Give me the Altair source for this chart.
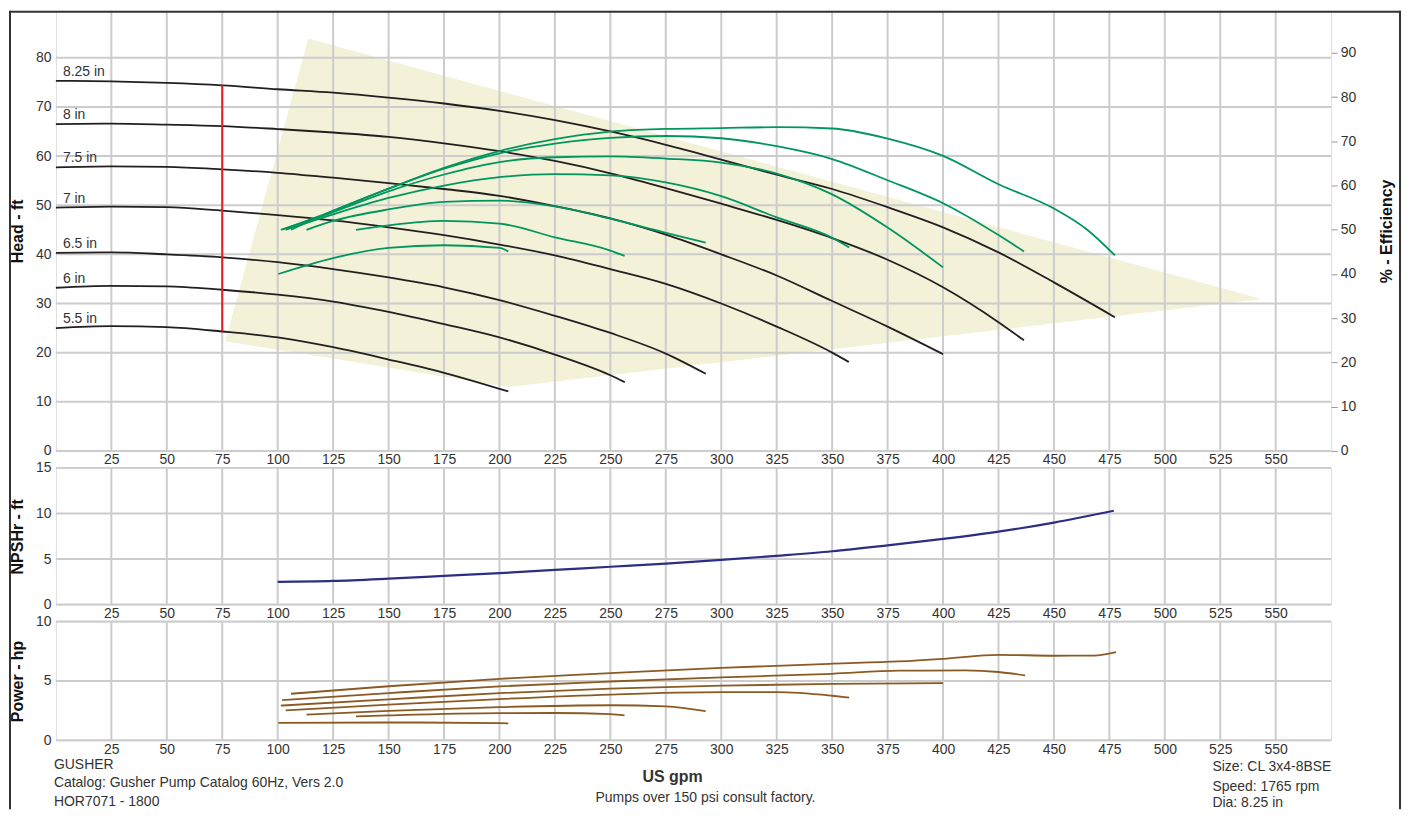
import altair as alt
import pandas as pd

# ---------------- values ----------------
x_ticks = [25, 50, 75, 100, 125, 150, 175, 200, 225, 250, 275, 300, 325, 350,
           375, 400, 425, 450, 475, 500, 525, 550]
head_ticks = [0, 10, 20, 30, 40, 50, 60, 70, 80]
eff_ticks = [0, 10, 20, 30, 40, 50, 60, 70, 80, 90]
npsh_ticks = [0, 5, 10, 15]
power_ticks = [0, 5, 10]

diameters = ["8.25 in", "8 in", "7.5 in", "7 in", "6.5 in", "6 in", "5.5 in"]

# head curves (gpm, ft)
head_825 = [(0, 75.3), (25, 75.2), (50, 74.9), (75, 74.4), (100, 73.6), (125, 72.9), (150, 71.9),
            (175, 70.7), (200, 69.2), (225, 67.3), (250, 65.0), (275, 62.3), (300, 59.3), (325, 56.2),
            (350, 53.3), (375, 49.6), (400, 45.5), (425, 40.4), (450, 34.3), (477.5, 27.2)]
head_8 = [(0, 66.5), (25, 66.6), (50, 66.4), (75, 66.1), (100, 65.5), (125, 64.8), (150, 63.9),
          (175, 62.6), (200, 61.0), (225, 59.0), (250, 56.5), (275, 53.5), (300, 50.3), (325, 47.0),
          (350, 43.3), (375, 38.9), (400, 33.3), (425, 26.2), (436.5, 22.5)]
head_75 = [(0, 57.7), (25, 57.9), (50, 57.8), (75, 57.3), (100, 56.6), (125, 55.6), (150, 54.5),
           (175, 53.3), (200, 51.9), (225, 49.8), (250, 47.3), (275, 44.0), (300, 40.0), (325, 35.7),
           (350, 30.5), (375, 25.3), (400, 19.7)]
head_7 = [(0, 49.5), (25, 49.7), (50, 49.6), (75, 48.9), (100, 48.0), (125, 46.9), (150, 45.5),
          (175, 43.9), (200, 42.0), (225, 39.8), (250, 37.0), (275, 34.0), (300, 30.0), (325, 25.3),
          (350, 20.0), (357.5, 18.1)]
head_65 = [(0, 40.3), (25, 40.4), (50, 40.0), (75, 39.4), (100, 38.4), (125, 37.0), (150, 35.3),
           (175, 33.3), (200, 30.7), (225, 27.5), (250, 24.0), (275, 19.8), (293, 15.7)]
head_6 = [(0, 33.2), (25, 33.6), (50, 33.5), (75, 32.8), (100, 31.8), (125, 30.4), (150, 28.3),
          (175, 25.8), (200, 23.1), (225, 19.6), (250, 15.4), (256.5, 14.0)]
head_55 = [(0, 25.0), (25, 25.4), (50, 25.2), (75, 24.3), (100, 23.1), (125, 21.1), (150, 18.6),
           (175, 15.9), (204, 12.1)]

# efficiency curves (gpm, %)
eff_825 = [(106, 50.0), (125, 54.3), (150, 59.3), (175, 64.0), (200, 67.8), (225, 70.5), (250, 72.2),
           (275, 72.8), (300, 73.0), (325, 73.2), (350, 72.9), (375, 70.6), (400, 66.7), (425, 60.3),
           (450, 54.8), (465, 50.0), (477.5, 44.2)]
eff_8 = [(102, 50.0), (125, 54.3), (150, 59.3), (175, 63.8), (200, 67.3), (225, 69.5), (250, 70.8),
         (275, 71.2), (300, 70.7), (325, 68.9), (350, 66.0), (375, 61.2), (400, 56.0), (425, 48.8),
         (436.5, 45.1)]
eff_75 = [(101.4, 50.0), (125, 54.0), (150, 58.7), (175, 62.5), (200, 65.3), (225, 66.4), (250, 66.6),
          (275, 66.1), (300, 65.2), (325, 62.7), (350, 58.0), (375, 50.5), (400, 41.5)]
eff_7 = [(103.6, 50.0), (125, 53.5), (150, 57.2), (175, 60.0), (200, 61.9), (225, 62.6), (250, 62.3),
         (275, 60.7), (300, 57.6), (325, 52.8), (350, 48.2), (357.7, 46.0)]
eff_65 = [(113, 50.0), (125, 52.0), (150, 54.6), (175, 56.3), (200, 56.6), (225, 55.3), (250, 52.5),
          (275, 49.3), (293, 47.1)]
eff_6 = [(135.3, 50.0), (150, 51.0), (175, 52.0), (200, 51.4), (225, 48.3), (250, 45.3), (256.4, 44.1)]
eff_55 = [(100.3, 40.0), (125, 43.6), (150, 45.9), (175, 46.5), (200, 45.9), (204, 45.1)]

# NPSHr (gpm, ft)
npsh_q = [100, 125, 150, 175, 200, 225, 250, 275, 300, 325, 350, 375, 400, 425, 450, 477]
npsh_ft = [2.5, 2.6, 2.85, 3.15, 3.45, 3.8, 4.15, 4.5, 4.9, 5.35, 5.85, 6.5, 7.2, 8.0, 9.0, 10.3]

# power curves (gpm, hp)
pow_825 = [(106, 3.92), (150, 4.55), (200, 5.18), (250, 5.65), (300, 6.1), (350, 6.45), (380, 6.64),
           (400, 6.86), (425, 7.2), (450, 7.12), (468, 7.13), (478, 7.42)]
pow_8 = [(102, 3.39), (150, 3.98), (200, 4.54), (250, 4.95), (300, 5.3), (350, 5.6), (380, 5.86),
         (410, 5.88), (425, 5.75), (437, 5.46)]
pow_75 = [(101.4, 2.92), (150, 3.45), (200, 3.97), (250, 4.35), (300, 4.6), (350, 4.75), (400, 4.82)]
pow_7 = [(103.6, 2.52), (150, 3.0), (200, 3.47), (250, 3.85), (300, 4.05), (325, 4.05), (350, 3.75),
         (357.7, 3.6)]
pow_65 = [(113, 2.16), (150, 2.48), (200, 2.80), (250, 2.95), (275, 2.85), (293, 2.45)]
pow_6 = [(135.3, 2.02), (150, 2.1), (200, 2.29), (225, 2.3), (250, 2.2), (256.4, 2.1)]
pow_55 = [(100.3, 1.46), (150, 1.5), (200, 1.45), (204, 1.43)]

# preferred operating region (shaded), upper and lower edges
shade_q = [76.3, 113.8, 203.8, 543.7]
shade_top = [22.3, 83.9, 72.8, 30.9]
shade_bottom = [22.3, 19.6, 13.0, 30.9]

# minimum flow marker
min_flow_q = 75
min_flow_low = 24.3
min_flow_high = 74.4

# ---------------- frames ----------------
head_sets = [head_825, head_8, head_75, head_7, head_65, head_6, head_55]
eff_sets = [eff_825, eff_8, eff_75, eff_7, eff_65, eff_6, eff_55]
pow_sets = [pow_825, pow_8, pow_75, pow_7, pow_65, pow_6, pow_55]


def frame(sets, name):
    rows = []
    for d, pts in zip(diameters, sets):
        for q, v in pts:
            rows.append({"dia": d, "q": q, name: v})
    return pd.DataFrame(rows)


head_df = frame(head_sets, "h")
eff_df = frame(eff_sets, "e")
pow_df = frame(pow_sets, "p")
npsh_df = pd.DataFrame({"q": npsh_q, "n": npsh_ft})
label_df = pd.DataFrame({"dia": diameters, "h": [s[0][1] for s in head_sets]})
shade_df = pd.DataFrame({"q": shade_q, "top": shade_top, "bot": shade_bottom})
red_df = pd.DataFrame({"q": [min_flow_q], "lo": [min_flow_low], "hi": [min_flow_high]})
one = pd.DataFrame({"a": [0]})

# ---------------- styling ----------------
W = 1278
H_TOP, H_MID, H_BOT = 441, 137, 119
FONT = "Liberation Sans"
GRID = "#cccccc"
TXT = "#333333"

xscale = alt.Scale(domain=[0, 575], nice=False, zero=False)
head_scale = alt.Scale(domain=[0, 89.55], nice=False, zero=False)
eff_scale = alt.Scale(domain=[0, 99.5], nice=False, zero=False)
npsh_scale = alt.Scale(domain=[0, 15], nice=False, zero=False)
pow_scale = alt.Scale(domain=[0, 10], nice=False, zero=False)

X_AXIS = alt.Axis(values=x_ticks, ticks=False, domain=False, grid=False, labelFontSize=14,
                  labelPadding=2, labelColor=TXT, title=None, labelFont=FONT)


def y_axis(vals, title):
    return alt.Axis(values=vals, ticks=False, domain=False, grid=False, labelFontSize=14,
                    labelPadding=5, labelColor=TXT, labelFont=FONT, title=title,
                    titleFontSize=16, titleFontWeight="bold", titleColor="#111111",
                    titleFont=FONT, titleAngle=270, titleX=-38, titleBaseline="middle")


def xq():
    return alt.X("q:Q", scale=xscale, axis=X_AXIS)


def vgrid():
    return alt.Chart(pd.DataFrame({"q": x_ticks})).mark_rule(color=GRID, strokeWidth=2).encode(x=xq())


def hgrid(vals, scale, axis):
    return alt.Chart(pd.DataFrame({"v": vals})).mark_rule(color=GRID, strokeWidth=2).encode(
        y=alt.Y("v:Q", scale=scale, axis=axis))


# ---------------- top panel (y scales independent) ----------------
shade = alt.Chart(shade_df).mark_area(color="#F3F1D8", orient="vertical", interpolate="linear").encode(
    x=xq(),
    y=alt.Y("top:Q", scale=head_scale, axis=None),
    y2="bot:Q")

head_lines = alt.Chart(head_df).mark_line(color="#231F20", strokeWidth=1.8, interpolate="monotone").encode(
    x=xq(),
    y=alt.Y("h:Q", scale=head_scale, axis=y_axis(head_ticks, "Head - ft")),
    detail="dia:N")

eff_lines = alt.Chart(eff_df).mark_line(color="#00965E", strokeWidth=1.8, interpolate="monotone").encode(
    x=xq(),
    y=alt.Y("e:Q", scale=eff_scale,
            axis=alt.Axis(orient="right", values=eff_ticks, ticks=True, tickSize=6, tickColor="#999999",
                          tickWidth=1, domain=False, grid=False, labelFontSize=14, labelPadding=3,
                          labelColor=TXT, labelFont=FONT, title="% - Efficiency", titleFontSize=16,
                          titleFontWeight="bold", titleColor="#111111", titleFont=FONT,
                          titleAngle=270, titleX=55, titleBaseline="middle")),
    detail="dia:N")

red = alt.Chart(red_df).mark_rule(color="#E31E24", strokeWidth=2).encode(
    x=xq(),
    y=alt.Y("lo:Q", scale=head_scale, axis=None),
    y2="hi:Q")

labels = alt.Chart(label_df).mark_text(align="left", baseline="bottom", dy=-2, fontSize=14,
                                       color=TXT, font=FONT).encode(
    x=alt.value(7),
    y=alt.Y("h:Q", scale=head_scale, axis=None),
    text="dia:N")

border_top = alt.Chart(one).mark_rule(color="#333333", strokeWidth=2).encode(
    x=alt.value(-46), x2=alt.value(1348), y=alt.value(1))
border_left = alt.Chart(one).mark_rule(color="#333333", strokeWidth=2).encode(
    x=alt.value(-46), y=alt.value(0), y2=alt.value(800))
border_right = alt.Chart(one).mark_rule(color="#333333", strokeWidth=2).encode(
    x=alt.value(1347), y=alt.value(0), y2=alt.value(800))

top = alt.layer(shade, vgrid(), hgrid(head_ticks, head_scale, None), head_lines, eff_lines, red, labels,
                border_top, border_left, border_right).resolve_scale(y="independent").properties(
    width=W, height=H_TOP)

# ---------------- middle panel ----------------
NPSH_AXIS = y_axis(npsh_ticks, "NPSHr - ft")
npsh_line = alt.Chart(npsh_df).mark_line(color="#2B2E83", strokeWidth=2.2, interpolate="monotone").encode(
    x=xq(),
    y=alt.Y("n:Q", scale=npsh_scale, axis=NPSH_AXIS))

mid = alt.layer(vgrid(), hgrid(npsh_ticks, npsh_scale, NPSH_AXIS), npsh_line).properties(
    width=W, height=H_MID)

# ---------------- bottom panel ----------------
POW_AXIS = y_axis(power_ticks, "Power - hp")
pow_lines = alt.Chart(pow_df).mark_line(color="#8B5A22", strokeWidth=1.8, interpolate="monotone").encode(
    x=xq(),
    y=alt.Y("p:Q", scale=pow_scale, axis=POW_AXIS),
    detail="dia:N")


def note(text, x, y, align="left", size=14, weight="normal"):
    return alt.Chart(one).mark_text(text=text, align=align, baseline="middle", fontSize=size,
                                    fontWeight=weight, color=TXT, font=FONT).encode(
        x=alt.value(x), y=alt.value(y))


notes = [
    note("GUSHER", -2, 144),
    note("Catalog: Gusher Pump Catalog 60Hz, Vers 2.0", -2, 162),
    note("HOR7071 - 1800", -2, 181),
    note("US gpm", 618, 156, align="center", size=16, weight="bold"),
    note("Pumps over 150 psi consult factory.", 651, 177, align="center"),
    note("Size: CL 3x4-8BSE", 1159, 146),
    note("Speed: 1765 rpm", 1159, 166),
    note("Dia: 8.25 in", 1159, 182),
]

bot = alt.layer(vgrid(), hgrid(power_ticks, pow_scale, POW_AXIS), pow_lines, *notes).properties(
    width=W, height=H_BOT)

chart = alt.vconcat(top, mid, bot, spacing=17, bounds="flush").properties(
    padding=0, background="white"
).configure_view(stroke=GRID, strokeWidth=2).configure(font=FONT)

chart.save("out.html", embed_options={"renderer": "svg", "actions": False})
